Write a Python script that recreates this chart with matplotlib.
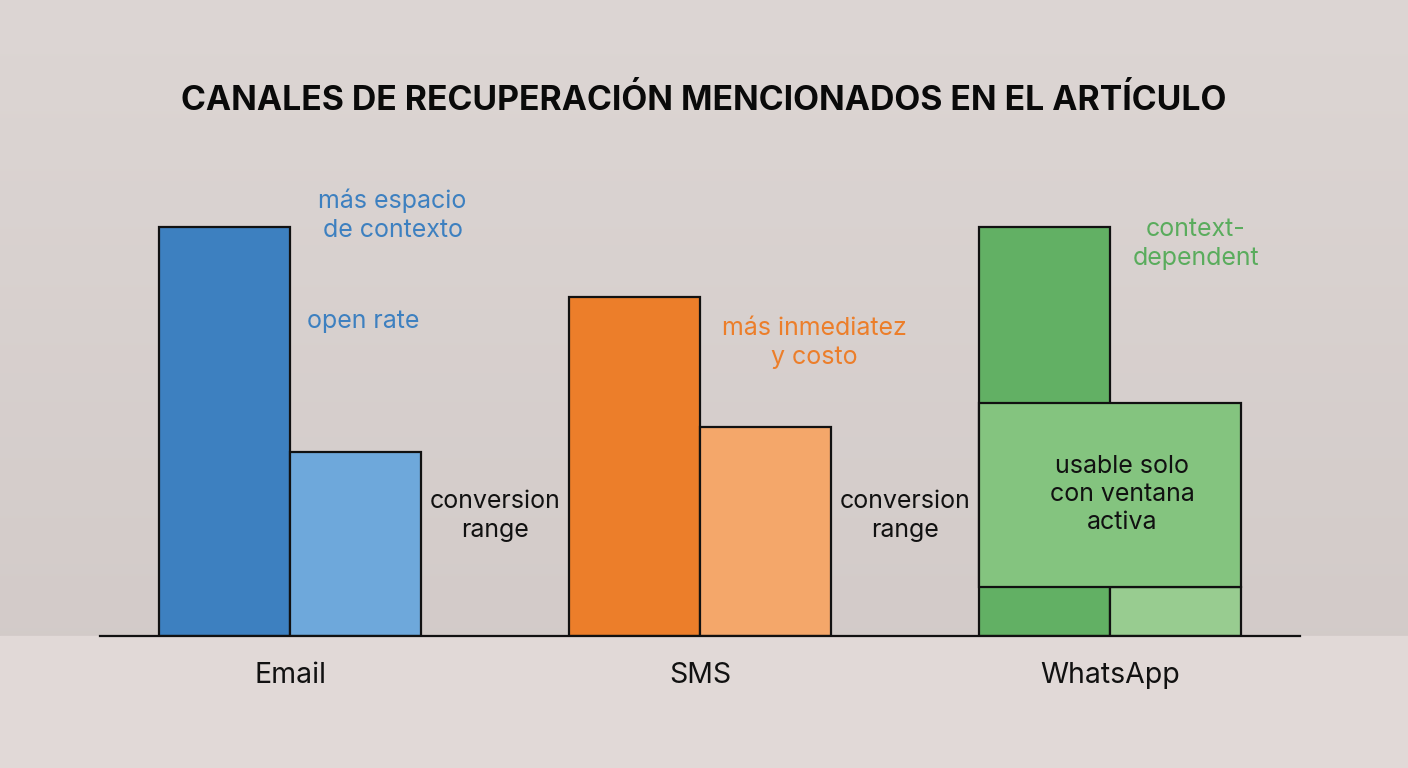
#!/usr/bin/env python3
# -*- coding: utf-8 -*-
"""Recovery channels chart: Email, SMS, WhatsApp."""

import numpy as np
import matplotlib
matplotlib.use("Agg")
import matplotlib.pyplot as plt
from matplotlib.patches import Rectangle

plt.rcParams["font.family"] = ["Inter", "DejaVu Sans"]

# data
channels = ["Email", "SMS", "WhatsApp"]
open_values = [100, 83, 100]          # dark bar (reach / context)
conversion_values = [45, 51, 12]      # light bar
whatsapp_window = (12, 57)            # overlay box: bottom, top

TITLE = "CANALES DE RECUPERACIÓN MENCIONADOS EN EL ARTÍCULO"

dark_colors = ["#3d80c0", "#ec7e2a", "#62b064"]
light_colors = ["#6ea8db", "#f4a76a", "#98cc90"]
window_color = "#84c47f"

W, H = 1408, 768
fig = plt.figure(figsize=(W / 100, H / 100), dpi=100)

# background gradient
bg = fig.add_axes([0, 0, 1, 1])
grad = np.linspace(0, 1, 256).reshape(-1, 1)
top = np.array([0.866, 0.839, 0.831])
mid = np.array([0.827, 0.796, 0.788])
img = top + (mid - top) * grad[..., None]
bg.imshow(img, aspect="auto", extent=[0, 1, 132 / H, 1], origin="upper")
bg.add_patch(Rectangle((0, 0), 1, 132 / H, color="#e1d9d7", zorder=1))
bg.set_xlim(0, 1)
bg.set_ylim(0, 1)
bg.axis("off")

# main axes: baseline at y=636 px, x from 100 to 1300 px
ax_bottom = (H - 636) / H
ax_top = (H - 160) / H
ax = fig.add_axes([100 / W, ax_bottom, 1200 / W, ax_top - ax_bottom])
ax.patch.set_alpha(0)
ymax = 100 * (636 - 160) / 409
ax.set_ylim(0, ymax)
ax.set_xlim(-190 / 410, 2 + 190 / 410)

x = np.arange(len(channels))
bw = 131 / 410
ax.bar(x - bw / 2, open_values, width=bw, color=dark_colors,
       edgecolor="#111111", linewidth=1.6, zorder=2)
ax.bar(x + bw / 2, conversion_values, width=bw, color=light_colors,
       edgecolor="#111111", linewidth=1.6, zorder=2)

# whatsapp window box
ax.bar(x[2], whatsapp_window[1] - whatsapp_window[0], bottom=whatsapp_window[0],
       width=2 * bw, color=window_color, edgecolor="#111111", linewidth=1.6,
       zorder=3)

for s in ["top", "right", "left"]:
    ax.spines[s].set_visible(False)
ax.spines["bottom"].set_linewidth(1.6)
ax.spines["bottom"].set_color("#111111")
ax.set_yticks([])
ax.set_xticks(x)
ax.set_xticklabels(channels, fontsize=20.5, color="#111111")
ax.tick_params(axis="x", length=0, pad=19)

# annotations
fs = 18
ls = 1.33
ax.text(x[0] + 0.25, 102.9, "más espacio\nde contexto", color="#3d80c0",
        fontsize=fs, ha="center", va="center", linespacing=ls, zorder=4)
ax.text(x[0] + 0.178, 77.0, "open rate", color="#3d80c0", fontsize=fs,
        ha="center", va="center", zorder=4)
ax.text(x[0] + 0.5, 29.3, "conversion\nrange", color="#111111", fontsize=fs,
        ha="center", va="center", linespacing=ls, zorder=4)
ax.text(x[1] + 0.28, 71.6, "más inmediatez\ny costo", color="#ec7e2a",
        fontsize=fs, ha="center", va="center", linespacing=ls, zorder=4)
ax.text(x[1] + 0.50, 29.3, "conversion\nrange", color="#111111", fontsize=fs,
        ha="center", va="center", linespacing=ls, zorder=4)
ax.text(x[2] + 0.21, 95.8, "context-\ndependent", color="#5aac5d",
        fontsize=fs, ha="center", va="center", linespacing=ls, zorder=4)
ax.text(x[2] + 0.03, 34.5, "usable solo\ncon ventana\nactiva", color="#111111",
        fontsize=fs, ha="center", va="center", linespacing=ls - 0.05, zorder=4)

fig.text(0.5, 1 - 100 / H, TITLE, fontsize=24.3, fontweight="bold",
         ha="center", va="center", color="#0a0a0a")

fig.savefig("out.png", dpi=100)
